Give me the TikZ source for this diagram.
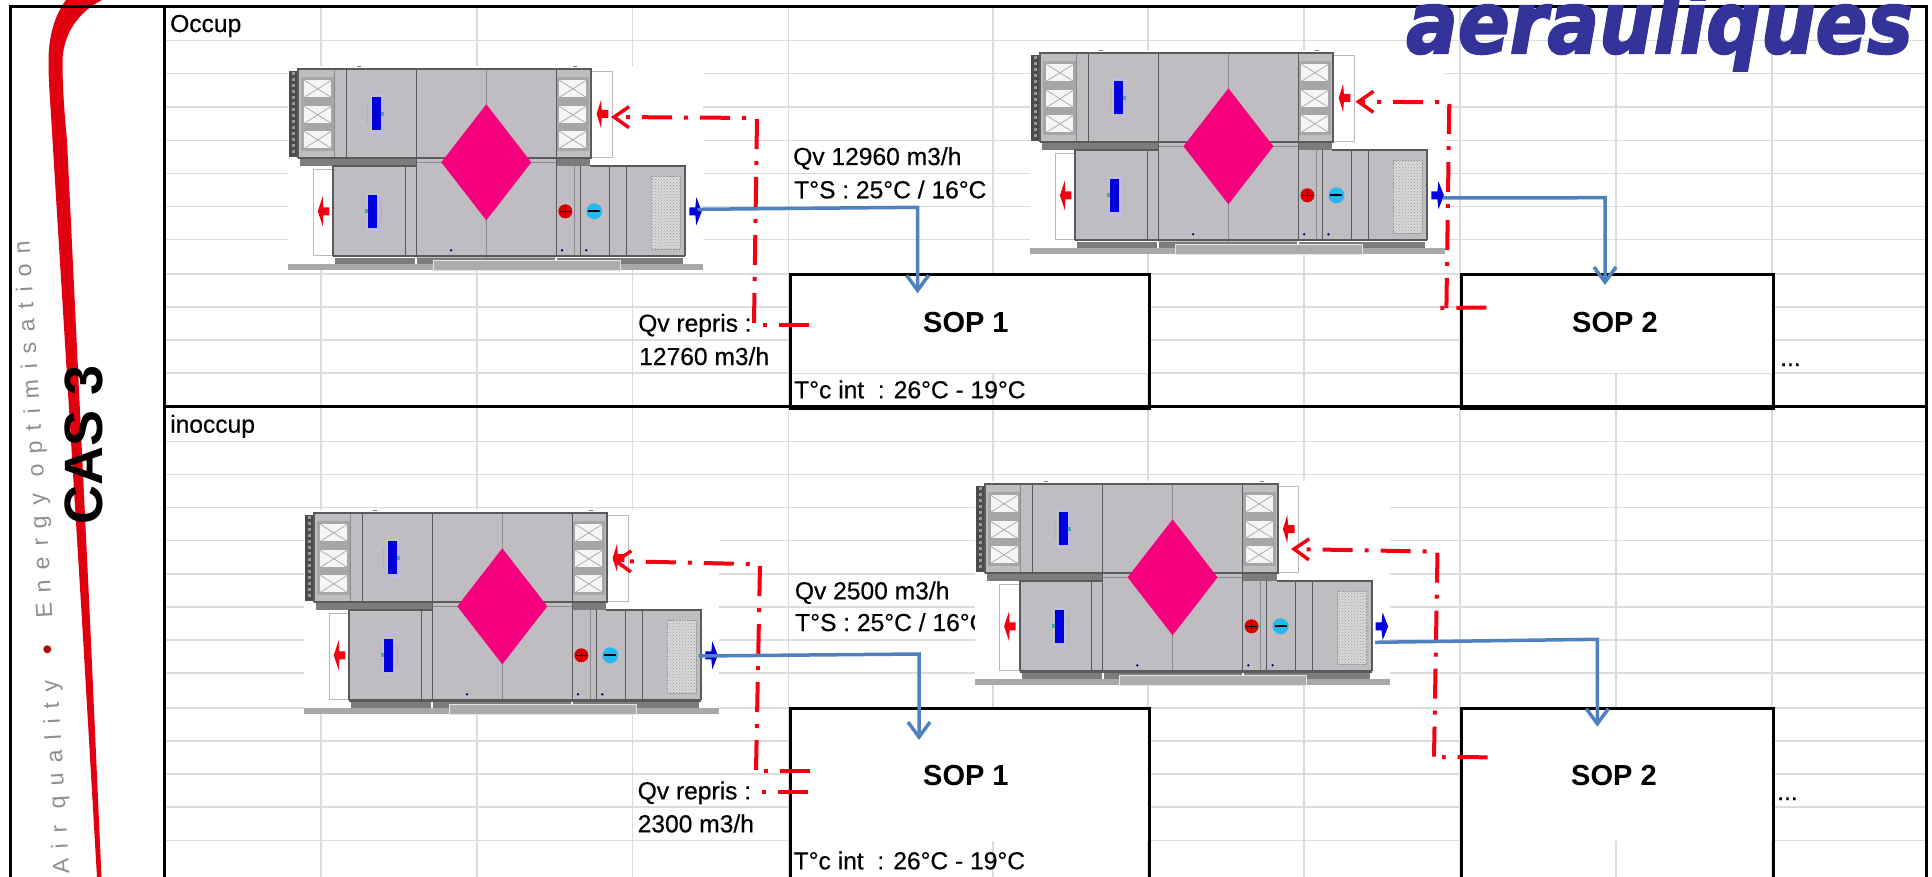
\documentclass[tikz,border=0pt]{standalone}
\usepackage{fontspec}
\setmainfont{Liberation Sans}
\newfontfamily\logofont{DejaVu Sans}
\usetikzlibrary{arrows.meta,patterns}
\definecolor{gridc}{HTML}{DCDCDC}
\definecolor{bodyc}{HTML}{C0BDC2}
\definecolor{edgec}{HTML}{5A5A5A}
\definecolor{stripc}{HTML}{7C7C7C}
\definecolor{basec}{HTML}{A8A8A8}
\definecolor{bandc}{HTML}{A6A6A6}
\definecolor{pinkc}{HTML}{F5007D}
\definecolor{redc}{HTML}{F40010}
\definecolor{bluec}{HTML}{4F81BD}
\definecolor{fanc}{HTML}{0000DC}
\definecolor{logoc}{HTML}{333399}
\definecolor{sidec}{HTML}{8E8E8E}
\newcommand{\fs}[1]{\fontsize{#1}{#1}\selectfont}
\tikzset{
  gridline/.style={gridc,line width=1.2pt},
  framel/.style={black,line width=3pt},
  sopbox/.style={draw=black,line width=3pt,inner sep=0pt,anchor=north west},
  sopbg/.style={fill=white,inner sep=0pt,anchor=north west},
  lab/.style={inner sep=0pt,anchor=base west,font=\fs{24.6}\addfontfeature{FakeBold=0.4}},
  soplab/.style={inner sep=0pt,anchor=base west,font=\fs{29}\bfseries},
  sidetxt/.style={inner sep=0pt,text=sidec,font=\fs{23}\addfontfeature{LetterSpace=45},rotate=93.5},
  reddash/.style={redc,line width=4pt,dash pattern=on 30pt off 12pt on 4pt off 12pt},
  redflow/.style={reddash,-{Straight Barb[length=15pt,width=21pt,line width=3.5pt]}},
  blueflow/.style={bluec,line width=3.5pt,-{Straight Barb[length=15pt,width=22pt,line width=3.5pt]}},
  ahu/.pic={
    % white ground that hides the sheet's grid
    \fill[white] (-10,-3) rectangle (405,201);
    % outlet frames
    \draw[gray!55,line width=.8pt] (293,2) rectangle (314,88);
    \draw[gray!55,line width=.8pt] (15,100) rectangle (35,186);
    % coil at far left
    \fill[black!70] (-9,2) rectangle (0,88);
    \draw[black!40,line width=3pt,dash pattern=on 3pt off 3pt] (-4.5,3) -- (-4.5,87);
    % bodies
    \fill[bodyc] (0,0) rectangle (293,89);
    \fill[bodyc] (118,0) rectangle (258,189);
    \fill[bodyc] (35,97) rectangle (387,187);
    % strips under the upper body
    \fill[stripc] (2,89) rectangle (118,97);
    \fill[stripc] (258,89) rectangle (292,97);
    % filter columns
    \fill[bandc] (3,8) rectangle (36,82);
    \fill[bandc] (258,8) rectangle (291,82);
    \foreach \fx in {6,261}{
      \foreach \fy in {11,37,62}{
        \fill[white!92!gray] (\fx,\fy) rectangle ++(27,17);
        \draw[gray!70,line width=.7pt] (\fx,\fy) -- ++(27,17) (\fx,\fy+17) -- ++(27,-17);
      }
    }
    % section lines
    \draw[edgec!70,line width=.8pt] (36,0) -- (36,89) (188,0) -- (188,189) (118,93) -- (258,93) (276,97) -- (276,187);
    \draw[edgec,line width=1.2pt] (48,0) -- (48,89) (107,97) -- (107,187) (282,97) -- (282,187) (311,97) -- (311,187) (328,97) -- (328,187);
    \draw[edgec,line width=1.3pt] (118,0) -- (118,187) (258,0) -- (258,187);
    % outer edges
    \draw[edgec,line width=2pt] (0,89) -- (0,0) -- (293,0) -- (293,89) -- (0,89);
    \draw[edgec,line width=2pt] (35,187) -- (35,97) -- (118,97);
    \draw[edgec,line width=2pt] (292,97) -- (387,97) -- (387,187);
    \draw[edgec,line width=2.4pt] (35,187) -- (387,187);
    \draw[gray,line width=1pt] (59,-3) -- (63,-3) (275,-3) -- (279,-3);
    % exchanger
    \fill[pinkc] (188,35) -- (233,93) -- (188,151) -- (143,93) -- cycle;
    % fans
    \draw[gray!60,line width=.7pt] (74,35) -- (69.5,35) -- (69.5,54) -- (74,54);
    \draw[blue!25,line width=.8pt] (73,26) rectangle (84,63);
    \fill[fanc] (74,28) rectangle (83,61);
    \fill[teal!70] (83,43) rectangle (86,47);
    \draw[gray!60,line width=.7pt] (79,133) -- (83.5,133) -- (83.5,152) -- (79,152);
    \draw[blue!25,line width=.8pt] (69,124) rectangle (80,161);
    \fill[fanc] (70,126) rectangle (79,159);
    \fill[teal!70] (67,140) rectangle (70,144);
    % heating and cooling coils
    \fill[red!85!black] (267,142) circle (7);
    \draw[black,line width=1.5pt] (261.5,142) -- (272.5,142) (267,136.5) -- (267,147.5);
    \fill[cyan!85!white] (296,142) circle (8);
    \draw[black,line width=2pt] (290,142) -- (302,142);
    % grille
    \fill[gray!30] (353,107) rectangle (382,180);
    \fill[pattern=crosshatch dots,pattern color=gray!75] (353,107) rectangle (382,180);
    \draw[gray!80,line width=.6pt,densely dotted] (353,107) rectangle (382,180);
    % small marks
    \fill[blue!40!black] (152.7,181) circle (1.3) (263.7,181) circle (1.3) (288,181) circle (1.3);
    % plinth
    \fill[basec] (-10,195) rectangle (405,201);
    \fill[stripc] (37,189) rectangle (117,195);
    \fill[stripc] (119,189) rectangle (257,195);
    \fill[stripc] (259,189) rectangle (385,195);
    \fill[gray!65] (135,191) rectangle (322,201);
    \draw[white!80!gray,line width=.8pt] (135,191) rectangle (322,201);
    % unit flow arrows
    \fill[redc] (19.5,142) -- (24.5,127) -- (25,138) -- (31,138) -- (31,146) -- (25,146) -- (24.5,157) -- cycle;
    \fill[redc] (298.3,44.7) -- (302.7,30.7) -- (303.5,40.7) -- (310,40.7) -- (310,48.7) -- (303.5,48.7) -- (302.7,58.7) -- cycle;
    \fill[fanc] (391,138) -- (397,138) -- (398,128) -- (403.5,142) -- (398,156) -- (397,146) -- (391,146) -- cycle;
  }
}
\begin{document}
\begin{tikzpicture}[x=1pt,y=-1pt]
\useasboundingbox (0,0) rectangle (1932,877);
\fill[white] (0,0) rectangle (1932,877);
% sheet grid
\foreach \gy in {40.7,73.9,107,140.3,173.5,206.7,239.9,274,307,340,373,441.7,474.5,507.5,540.7,574,606.9,640,672.9,708,741,774,807,840.7}{
  \draw[gridline] (165,\gy) -- (1926,\gy);
}
\foreach \gx in {321,477,632.5,788.5,993,1148,1304,1460,1616,1772}{
  \draw[gridline] (\gx,7) -- (\gx,877);
}
% white parts of the boxes
\node[sopbg,minimum width=359.5pt,minimum height=100.3pt] (sopAbg) at (788.5,272.7) {};
\node[sopbg,minimum width=312pt,minimum height=100.3pt] (sopBbg) at (1460,272.7) {};
\node[sopbg,minimum width=359.5pt,minimum height=134pt] (sopCbg) at (788.5,706.7) {};
\node[sopbg,minimum width=312pt,minimum height=134pt] (sopDbg) at (1460,706.7) {};
% labels
\node[lab] (occ) at (170,32) {Occup};
\node[lab] (ino) at (170,432.7) {inoccup};
\node[lab] (q1) at (793,165) {Qv 12960 m3/h};
\node[lab] (t1) at (794,198.3) {T°S : 25°C / 16°C};
\node[lab] (r1) at (638,331.7) {Qv repris :};
\node[lab] (r1v) at (639,365) {12760 m3/h};
\node[lab] (c1) at (794,398.3) {T°c int\ \ : 26°C - 19°C};
\node[lab] (q2) at (794.7,599.3) {Qv 2500 m3/h};
\node[lab] (t2) at (795,631) {T°S : 25°C / 16°C};
\node[lab] (r2) at (637.5,799.3) {Qv repris :};
\node[lab] (r2v) at (637.5,832.3) {2300 m3/h};
\node[lab] (c2) at (793.5,869.3) {T°c int\ \ : 26°C - 19°C};
\node[soplab] (s1) at (923,332) {SOP 1};
\node[soplab] (s2) at (1572,332.7) {SOP 2};
\node[soplab] (s3) at (923,785) {SOP 1};
\node[soplab] (s4) at (1571,785.7) {SOP 2};
\node[lab] (d1) at (1780,366) {...};
\node[lab] (d2) at (1777,800) {...};
% units
\pic at (298.3,69.3) {ahu};
\pic at (1040.4,53.3) {ahu};
\pic at (314.3,513.3) {ahu};
\pic at (984.6,484.3) {ahu};
% left column: swoosh and side text
\fill[redc!92!black] (66,0) .. controls (55,15) and (48.5,35) .. (48.5,62)
  .. controls (48.5,85) and (51,110) .. (52.5,140)
  -- (82,620) -- (97,877) -- (101.5,877) -- (90,620) -- (67,140)
  .. controls (64,110) and (62.5,85) .. (62.5,62)
  .. controls (62.5,35) and (78,12) .. (102,0) -- cycle;
\node[sidetxt,anchor=base west] (sideE) at (52.5,618) {Energy optimisation};
\node[sidetxt,anchor=base east] (sideA) at (57.5,680) {Air quality};
\fill[red!65!black!95] (47.3,649.3) circle (4);
\node[inner sep=0pt,anchor=base,rotate=90,font=\fs{54}\bfseries] (cas) at (102,444.5) {CAS 3};
% frame
\draw[framel] (10.5,880) -- (10.5,7) -- (1926.5,7) -- (1926.5,880);
\draw[framel] (164,7) -- (164,880);
\draw[framel] (164,406.5) -- (1926.5,406.5);
% boxes
\node[sopbox,minimum width=359.5pt,minimum height=133.8pt] (sopA) at (788.5,272.7) {};
\node[sopbox,minimum width=312pt,minimum height=133.8pt] (sopB) at (1460,272.7) {};
\node[sopbox,minimum width=359.5pt,minimum height=180pt] (sopC) at (788.5,706.7) {};
\node[sopbox,minimum width=312pt,minimum height=180pt] (sopD) at (1460,706.7) {};
% connector end points
\coordinate (rAin) at (808.7,325);   \coordinate (rAdot) at (762,325);
\coordinate (rAlow) at (754,323);    \coordinate (rAtop) at (757,118);   \coordinate (rAend) at (611,117);
\coordinate (rBin) at (1486.4,307.5);\coordinate (rBdot) at (1440,308);
\coordinate (rBlow) at (1446.4,308); \coordinate (rBtop) at (1449.3,102.3); \coordinate (rBend) at (1355.4,101.7);
\coordinate (rCin) at (809.8,770.7); \coordinate (rCdot) at (764,770.7);
\coordinate (rClow) at (756,770);    \coordinate (rCtop) at (760,564.3); \coordinate (rCend) at (613,561);
\coordinate (rC2in) at (808,792.3);  \coordinate (rC2dot) at (761,792.3);
\coordinate (rDin) at (1487.5,757.3);\coordinate (rDdot) at (1442,757);
\coordinate (rDlow) at (1434,756.7); \coordinate (rDtop) at (1437.5,551.7); \coordinate (rDend) at (1291,549);
\coordinate (bAs) at (697.6,209.3);  \coordinate (bAc) at (917.6,207.3); \coordinate (bAe) at (917.6,293.3);
\coordinate (bBs) at (1443,198);     \coordinate (bBc) at (1605,197.7);  \coordinate (bBe) at (1605,285);
\coordinate (bCs) at (698.8,656);    \coordinate (bCc) at (919,654);     \coordinate (bCe) at (919,740);
\coordinate (bDs) at (1375,642.3);   \coordinate (bDc) at (1597.3,639.3);\coordinate (bDe) at (1597.3,726.7);
% return air
\draw[reddash] (rAin) -- (rAdot);
\draw[redflow] (rAlow) -- (rAtop) -- (rAend);
\draw[reddash] (rBin) -- (rBdot);
\draw[redflow] (rBlow) -- (rBtop) -- (rBend);
\draw[reddash] (rCin) -- (rCdot);
\draw[reddash] (rC2in) -- (rC2dot);
\draw[redflow] (rClow) -- (rCtop) -- (rCend);
\draw[reddash] (rDin) -- (rDdot);
\draw[redflow] (rDlow) -- (rDtop) -- (rDend);
% supply air
\draw[blueflow] (bAs) -- (bAc) -- (bAe);
\draw[blueflow] (bBs) -- (bBc) -- (bBe);
\draw[blueflow] (bCs) -- (bCc) -- (bCe);
\draw[blueflow] (bDs) -- (bDc) -- (bDe);
% logo
\node[inner sep=0pt,anchor=base west,text=logoc] (logo) at (1406,53) {\scalebox{.89}[1]{\logofont\fs{86}\bfseries\itshape\addfontfeature{FakeBold=2.5}aerauliques}};
\end{tikzpicture}
\end{document}
